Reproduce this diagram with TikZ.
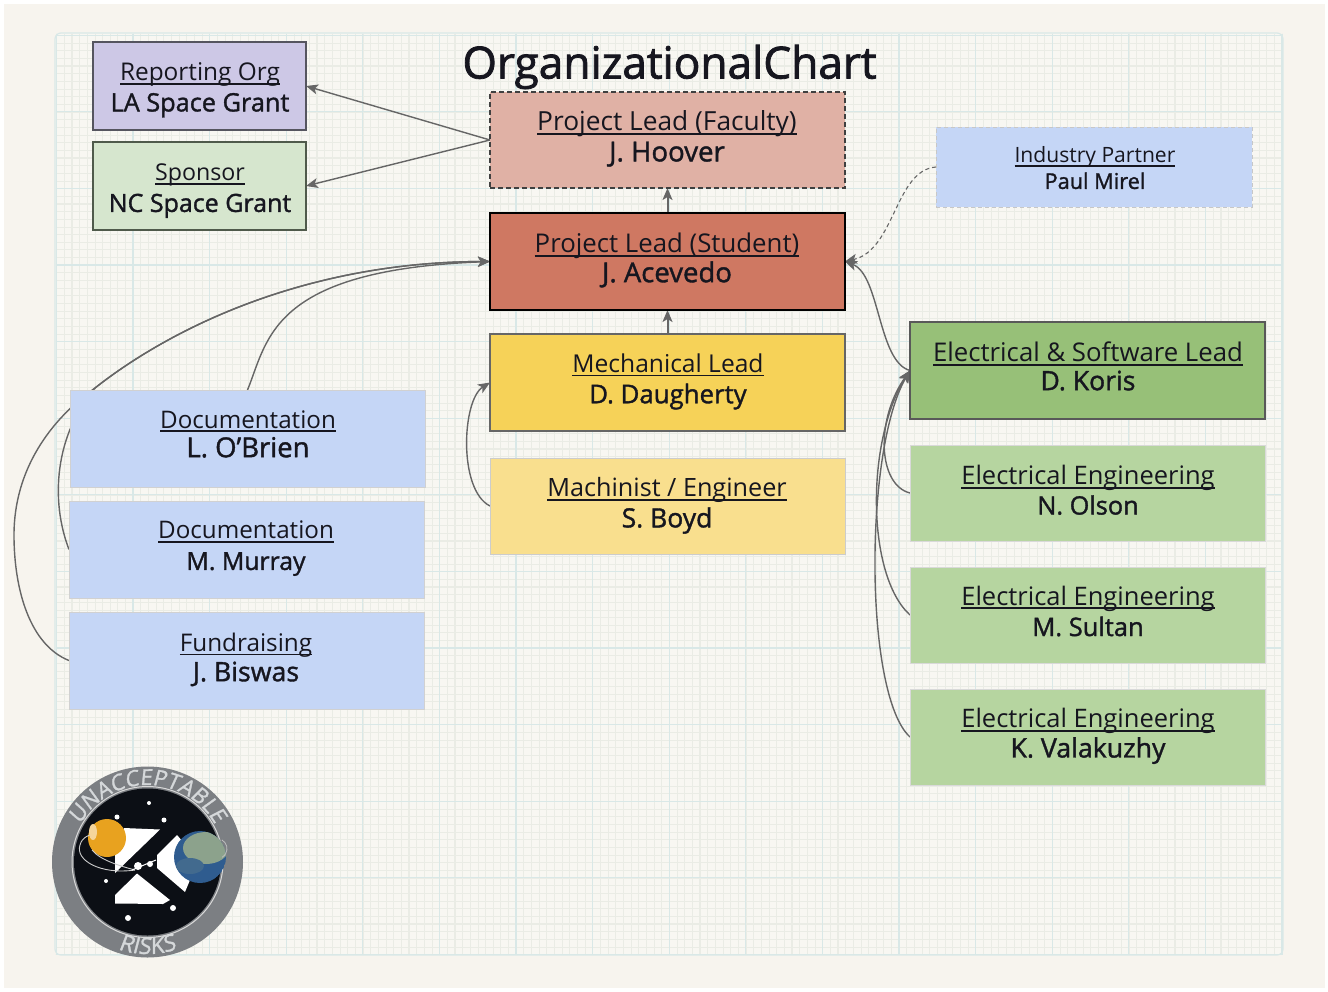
\documentclass[tikz,border=0pt]{standalone}
\usepackage{fontspec}
\setmainfont{Open Sans}
\newfontfamily\medfont[FakeBold=1.4]{Open Sans}
\newfontfamily\titlefont[FakeBold=1.8]{Open Sans}
\newfontfamily\logofont[FakeSlant=0.12,FakeBold=1.2]{Open Sans}
\usetikzlibrary{arrows.meta,decorations.text}
\pgfdeclarelayer{paper}\pgfdeclarelayer{links}
\pgfsetlayers{paper,links,main}
\definecolor{ink}{HTML}{16161F}
\definecolor{paperc}{HTML}{F7F4EE}
\definecolor{panelc}{HTML}{F8F7F2}
\definecolor{gmaj}{HTML}{D9E8E7}
\definecolor{gmin}{HTML}{EAECE5}
\definecolor{wire}{HTML}{666666}
\definecolor{logoring}{HTML}{7C7F83}
\definecolor{logoblack}{HTML}{0C0F15}
\definecolor{logotext}{HTML}{D5D8DA}
\definecolor{lavfill}{HTML}{CDC8E6}
\definecolor{lavline}{HTML}{55555F}
\definecolor{palegreen}{HTML}{D6E6CE}
\definecolor{palegline}{HTML}{4F5A4B}
\definecolor{rosefill}{HTML}{E0B1A5}
\definecolor{redfill}{HTML}{CF7862}
\definecolor{yelfill}{HTML}{F6D258}
\definecolor{yelpale}{HTML}{F9DF8E}
\definecolor{bluefill}{HTML}{C5D6F6}
\definecolor{leadgreen}{HTML}{97C078}
\definecolor{midgreen}{HTML}{B6D5A0}
\definecolor{orangep}{HTML}{E8A21F}
\definecolor{earthb}{HTML}{2F5C8F}
\definecolor{earthg}{HTML}{8CA28C}
\newcommand{\ulin}[1]{\leavevmode\sbox0{#1}\rlap{\rule[-0.17em]{\wd0}{0.075em}}\box0}
\newcommand{\lns}[4]{\fontsize{#2}{\lsk}\selectfont\ulin{#1}\\\fontsize{#4}{\lsk}\medfont\selectfont #3}
\newcommand{\obox}[9]{%
  \pgfmathsetmacro{\cxx}{(#3+#5)/2}\pgfmathsetmacro{\cyy}{(#4+#6)/2}%
  \pgfmathsetmacro{\wid}{#5-#3}\pgfmathsetmacro{\hgt}{#6-#4}%
  \def\lsk{#7}%
  \node[#2,minimum width=\wid pt,minimum height=\hgt pt] (#1) at (\cxx,\cyy) {};
  \node[txt,font=\fontsize{20}{#7}\selectfont] (#1-t) at #8 {#9};
}
\tikzset{
  orgb/.style={rectangle,inner sep=0pt,outer sep=0pt,line width=1pt},
  txt/.style={align=center,text=ink,inner sep=0pt},
  wirel/.style={draw=wire,line width=1.4pt},
  arr/.style={wirel,-{Stealth[length=12pt,width=10pt,inset=3pt]}},
  dashbox/.style={dash pattern=on 5pt off 3pt},
  spark/.style={fill=white,circle,inner sep=0pt,minimum size=#1},
}
\begin{document}
\begin{tikzpicture}[x=1pt,y=-1pt]
\useasboundingbox (0,0) rectangle (1328,991);
\begin{pgfonlayer}{paper}
  \fill[white] (0,0) rectangle (1328,991);
  \fill[paperc] (4,4) rectangle (1325,988);
  \fill[panelc,rounded corners=6pt] (55,33) rectangle (1283,955);
  \foreach \i in {0,...,160}{\pgfmathsetmacro{\p}{56.4+7.66*\i}\draw[gmin,line width=0.4pt] (\p,33.5)--(\p,954.5);}
  \foreach \i in {0,...,120}{\pgfmathsetmacro{\p}{35.2+7.66*\i}\draw[gmin,line width=0.4pt] (55.5,\p)--(1282.5,\p);}
  \foreach \i in {0,...,80}{\pgfmathsetmacro{\p}{56.4+15.32*\i}\draw[gmin,line width=0.7pt] (\p,33.5)--(\p,954.5);}
  \foreach \i in {0,...,60}{\pgfmathsetmacro{\p}{35.2+15.32*\i}\draw[gmin,line width=0.7pt] (55.5,\p)--(1282.5,\p);}
  \foreach \i in {0,...,16}{\pgfmathsetmacro{\p}{56.4+76.6*\i}\draw[gmaj,line width=1.2pt] (\p,33.5)--(\p,954.5);}
  \foreach \i in {0,...,12}{\pgfmathsetmacro{\p}{35.2+76.6*\i}\draw[gmaj,line width=1.2pt] (55.5,\p)--(1282.5,\p);}
  \draw[gmaj,line width=1.2pt,rounded corners=6pt] (55,33) rectangle (1283,955);
\end{pgfonlayer}

\node[txt,font=\titlefont\fontsize{44.2}{50}\selectfont] (title) at (669.5,67) {OrganizationalChart};

\obox{rep}{orgb,draw=lavline,line width=1.3pt,fill=lavfill}{93}{42}{306}{130}{31}{(200,90)}{\lns{Reporting Org}{24.4}{LA Space Grant}{25.3}}
\obox{spo}{orgb,draw=palegline,line width=1.3pt,fill=palegreen}{93}{142}{306}{230}{31}{(200,191)}{\lns{Sponsor}{23.2}{NC Space Grant}{25}}
\obox{fac}{orgb,draw=black!75,dashbox,line width=1.6pt,fill=rosefill}{490}{92}{845}{188}{31}{(667,138.5)}{\lns{Project Lead (Faculty)}{26.3}{J. Hoover}{27.6}}
\obox{stu}{orgb,draw=black,line width=2.5pt,fill=redfill}{490}{213}{845}{310}{30}{(667,260)}{\lns{Project Lead (Student)}{25.8}{J. Acevedo}{27.5}}
\obox{mec}{orgb,draw=black!60,line width=2pt,fill=yelfill}{490}{334}{845}{431}{31}{(668,381.5)}{\lns{Mechanical Lead}{24.6}{D. Daugherty}{25.8}}
\obox{mac}{orgb,draw=black!20,line width=0.8pt,fill=yelpale}{490}{458}{845}{554}{31}{(667,505.5)}{\lns{Machinist / Engineer}{25.2}{S. Boyd}{26.5}}
\obox{ind}{orgb,draw=black!22,dash pattern=on 4pt off 3pt,line width=0.8pt,fill=bluefill}{936}{127}{1252}{207}{26}{(1095,168)}{\lns{Industry Partner}{21.1}{Paul Mirel}{21.7}}
\obox{lea}{orgb,draw=black!65,line width=2.4pt,fill=leadgreen}{910}{322}{1265}{419}{29}{(1088,366)}{\lns{Electrical \& Software Lead}{25.75}{D. Koris}{26.6}}
\obox{eea}{orgb,draw=black!15,line width=0.8pt,fill=midgreen}{910}{445}{1265}{541}{30}{(1088,490)}{\lns{Electrical Engineering}{25.5}{N. Olson}{25.3}}
\obox{eeb}{orgb,draw=black!15,line width=0.8pt,fill=midgreen}{910}{567}{1265}{663}{31}{(1088,611)}{\lns{Electrical Engineering}{25.5}{M. Sultan}{25.5}}
\obox{eec}{orgb,draw=black!15,line width=0.8pt,fill=midgreen}{910}{689}{1265}{785}{30}{(1088,736)}{\lns{Electrical Engineering}{25.5}{K. Valakuzhy}{26.7}}
\obox{doa}{orgb,draw=black!18,line width=0.8pt,fill=bluefill}{70}{390}{425}{487}{29}{(248,434)}{\lns{Documentation}{24.2}{L. O’Brien}{27.5}}
\obox{dob}{orgb,draw=black!18,line width=0.8pt,fill=bluefill}{69}{501}{424}{598}{31}{(246,548.5)}{\lns{Documentation}{24.2}{M. Murray}{24.8}}
\obox{fun}{orgb,draw=black!18,line width=0.8pt,fill=bluefill}{69}{612}{424}{709}{30}{(246,659.5)}{\lns{Fundraising}{24.3}{J. Biswas}{26.7}}

\begin{pgfonlayer}{links}
  \draw[arr] (fac.west) -- (rep.east);
  \draw[arr] (fac.west) -- (spo.east);
  \draw[arr,line width=2pt] (stu.north) -- (fac.south);
  \draw[arr,line width=2pt] (mec.north) -- (stu.south);
  \draw[arr] (mac.west) .. controls (458,490) and (462,400) .. (mec.west);
  \draw[arr] (doa.north) .. controls (268,340) and (270,270) .. (stu.west);
  \draw[arr] (dob.west) .. controls (50,500) and (55,435) .. (95,388) .. controls (175,325) and (310,262) .. (stu.west);
  \draw[arr] (fun.west) .. controls (30,645) and (14,590) .. (14,535) .. controls (14,470) and (50,420) .. (95,388) .. controls (175,325) and (310,262) .. (stu.west);
  \draw[arr,dash pattern=on 4pt off 3pt,line width=1.1pt] (ind.west) .. controls (895,170) and (895,250) .. (stu.east);
  \draw[arr] (lea.west) .. controls (878,362) and (880,275) .. (stu.east);
  \draw[arr] (eea.west) .. controls (878,485) and (875,420) .. (lea.west);
  \draw[arr] (eeb.west) .. controls (866,575) and (866,440) .. (lea.west);
  \draw[arr] (eec.west) .. controls (864,695) and (864,450) .. (lea.west);
\end{pgfonlayer}

% logo
\fill[logoring] (147.5,862) circle[radius=95.5];
\draw[white!85!black,line width=1pt] (147.5,862) circle[radius=75.5];
\fill[logoblack] (147.5,862) circle[radius=73.5];
\fill[white] (124,828) -- (160,829.5) -- (115,873) -- (115,853) -- cycle;
\fill[white] (115,903.5) -- (115,895) -- (137,873.5) -- (170,900) -- (163,904) -- cycle;
\fill[white] (157,855) -- (177,835) -- (190,850) -- (190,880) -- (185,892) -- (157,868) -- cycle;
\begin{scope}
  \clip (200,857) circle[radius=26];
  \fill[earthb] (200,857) circle[radius=26];
  \fill[earthg] (206,848) ellipse[x radius=23,y radius=16];
  \fill[earthb!80!earthg] (190,866) ellipse[x radius=14,y radius=8];
\end{scope}
\draw[white!75!black,line width=0.8pt] (222,840) arc[start angle=-60,end angle=60,radius=10];
\fill[orangep] (107,838) circle[radius=19];
\fill[white!55!orangep] (93,832) ellipse[x radius=4,y radius=8];
\draw[white!80!black,line width=0.9pt] (135,870) .. controls (100,875) and (75,860) .. (80,845) .. controls (82,838) and (87,836) .. (90,835);
\draw[white!80!black,line width=0.9pt] (135,870) .. controls (120,866) and (100,860) .. (92,850);
\node[spark=5pt] (s1) at (117,817) {};
\node[spark=5pt] (s2) at (164,820) {};
\node[spark=4pt] (s3) at (149,803) {};
\node[spark=6pt] (s4) at (173,908) {};
\node[spark=6pt] (s5) at (128,918) {};
\node[spark=4pt] (s6) at (106,881) {};
\node[spark=8pt] (s7) at (138,866) {};
\node[spark=6pt] (s8) at (150,864) {};
\draw[white,line width=1pt] (132,870) -- (156,860);
\path[postaction={decorate,decoration={text along path,text align=center,text color=logotext,text={|\logofont\fontsize{22}{22}\selectfont|UNACCEPTABLE}}}] (147.5,862) ++(195:77) arc[start angle=195,end angle=345,radius=77];
\path[postaction={decorate,decoration={text along path,text align=center,text color=logotext,text={|\logofont\fontsize{23}{23}\selectfont|RISKS}}}] (147.5,862) ++(125:92) arc[start angle=125,end angle=55,radius=92];
\end{tikzpicture}
\end{document}
